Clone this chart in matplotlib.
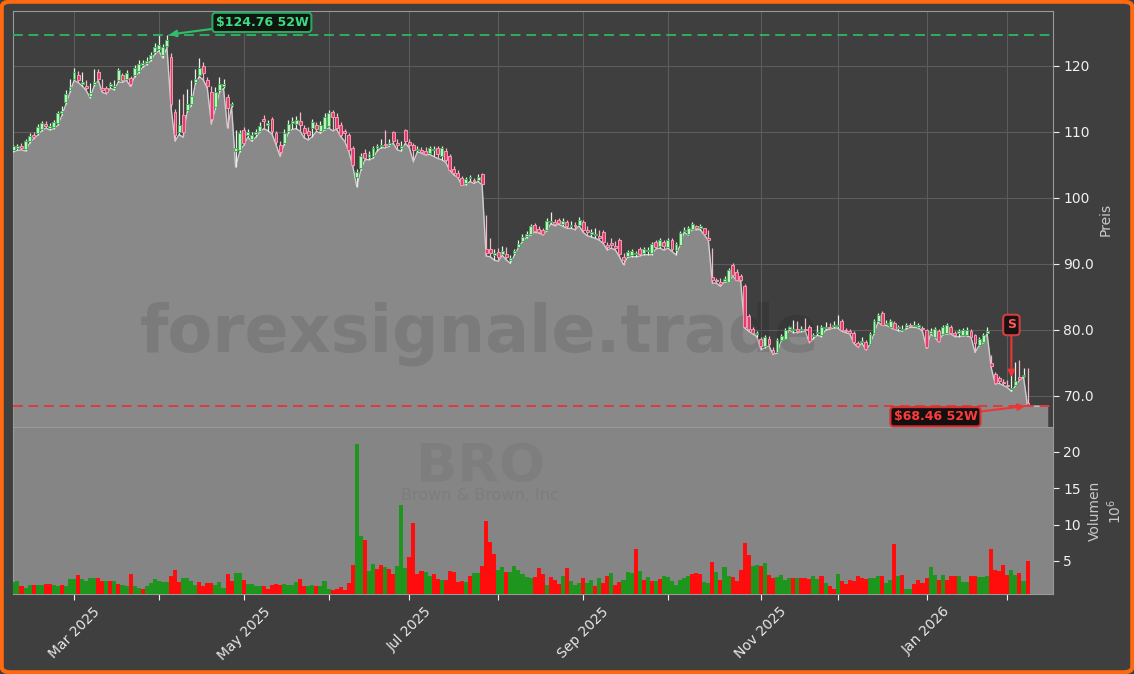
import matplotlib
matplotlib.use("Agg")
import matplotlib.pyplot as plt
import numpy as np
import pandas as pd
from matplotlib.patches import FancyBboxPatch
from matplotlib.ticker import FixedLocator, FixedFormatter, FuncFormatter, NullFormatter

# ---------------- data ----------------
holidays = ["2025-02-17", "2025-04-18", "2025-05-26", "2025-06-19", "2025-07-04",
            "2025-09-01", "2025-11-27", "2025-12-25", "2026-01-01", "2026-01-19"]
dates = pd.bdate_range("2025-02-07", "2026-02-09", freq="C", holidays=holidays)

open_ = [107.3, 107.5, 107.9, 107.4, 108.6, 109.6, 109.8, 110.5, 111.2, 110.6,
         110.8, 111.3, 112.8, 114.5, 116.3, 118.1, 118.6, 117.3, 116.9, 115.5,
         117.3, 119.1, 116.6, 116.7, 116.9, 116.7, 117.9, 118.6, 118.1, 118.2,
         118.7, 119.3, 120.1, 120.5, 121.1, 122.1, 122.6, 121.7, 123.1, 121.4,
         113.0, 110.0, 112.5, 113.3, 114.3, 117.5, 118.7, 120.0, 117.8, 116.1,
         113.8, 116.4, 117.0, 115.3, 114.1, 107.1, 107.3, 110.3, 109.6, 109.0,
         109.7, 110.2, 111.9, 111.0, 111.9, 109.8, 108.0, 108.4, 110.1, 111.3,
         111.2, 111.6, 110.6, 110.2, 110.6, 111.0, 110.1, 110.5, 110.9, 113.0,
         112.3, 111.1, 110.0, 109.5, 107.5, 103.2, 104.5, 106.8, 106.2, 106.3,
         107.6, 107.8, 108.2, 108.0, 110.0, 108.3, 107.6, 110.3, 108.5, 108.0,
         107.2, 107.3, 107.1, 106.8, 107.3, 107.5, 106.3, 107.1, 106.3, 104.4,
         103.8, 103.0, 102.2, 103.0, 102.6, 102.7, 103.7, 92.3, 92.2, 91.3,
         91.8, 91.5, 91.5, 90.6, 91.6, 92.6, 93.5, 94.2, 94.5, 95.9,
         95.3, 95.1, 95.2, 96.3, 96.3, 96.7, 96.0, 96.3, 95.7, 95.9,
         95.9, 96.4, 95.0, 94.6, 94.4, 94.3, 94.9, 92.8, 93.2, 92.7,
         93.6, 91.0, 91.2, 91.4, 91.5, 92.2, 91.6, 91.9, 91.6, 93.3,
         92.7, 93.4, 92.6, 93.7, 92.1, 92.9, 95.0, 94.5, 95.3, 95.7,
         95.5, 95.4, 93.9, 88.0, 87.5, 87.3, 87.4, 87.3, 89.8, 88.8,
         88.2, 86.6, 82.1, 80.2, 79.4, 78.7, 77.5, 78.7, 77.0, 76.7,
         78.5, 78.7, 80.2, 80.0, 80.0, 80.0, 80.1, 80.5, 79.1, 79.5,
         79.2, 80.3, 80.5, 80.6, 80.6, 81.3, 80.0, 79.8, 79.5, 78.0,
         78.2, 78.2, 77.9, 79.5, 81.4, 82.5, 80.9, 80.5, 81.0, 80.3,
         80.0, 80.5, 80.7, 80.6, 80.5, 80.2, 80.0, 79.6, 79.0, 79.8,
         79.4, 79.5, 80.5, 79.5, 79.6, 79.2, 79.2, 79.8, 79.2, 77.7,
         78.2, 79.6, 75.0, 73.3, 72.7, 72.1, 71.6, 71.0, 71.7, 72.8,
         73.0, 69.0]

close = [107.8, 107.9, 107.6, 108.6, 109.4, 109.3, 110.7, 111.3, 110.9, 110.9,
         111.5, 112.8, 113.2, 115.8, 116.8, 119.1, 117.8, 117.6, 116.6, 115.9,
         117.6, 118.1, 116.3, 116.1, 117.3, 117.0, 119.4, 117.8, 118.9, 117.2,
         119.7, 120.3, 120.4, 120.8, 121.6, 122.9, 123.2, 122.8, 124.0, 114.2,
         109.6, 111.0, 110.0, 114.2, 115.5, 118.0, 119.7, 118.9, 116.9, 112.0,
         116.0, 117.2, 117.2, 113.6, 114.3, 107.6, 109.8, 108.4, 110.0, 109.6,
         110.0, 110.9, 111.6, 111.3, 110.2, 108.5, 107.0, 109.8, 111.2, 111.7,
         111.8, 111.0, 109.8, 109.6, 111.5, 110.4, 111.1, 112.3, 112.8, 112.2,
         110.6, 109.6, 109.9, 107.3, 105.0, 104.0, 106.3, 106.0, 106.7, 107.5,
         107.8, 108.1, 108.0, 108.3, 108.6, 108.0, 107.9, 108.6, 108.0, 107.3,
         107.4, 107.0, 106.7, 107.5, 107.4, 106.6, 107.5, 105.8, 104.3, 103.8,
         103.2, 102.0, 102.8, 103.1, 102.5, 103.2, 102.1, 91.6, 91.6, 91.6,
         91.0, 91.9, 91.1, 90.9, 92.0, 93.1, 94.1, 94.6, 95.7, 95.0,
         94.9, 94.6, 96.5, 96.5, 96.1, 96.2, 96.5, 95.8, 95.9, 95.8,
         96.6, 95.2, 94.9, 94.8, 94.6, 94.0, 93.3, 92.6, 92.8, 92.4,
         91.5, 90.6, 91.8, 91.9, 91.7, 91.5, 92.3, 92.1, 93.1, 92.6,
         93.6, 92.7, 93.6, 92.2, 93.1, 94.7, 95.2, 95.4, 96.0, 95.4,
         95.6, 94.5, 93.7, 87.5, 87.4, 87.0, 87.7, 89.1, 88.3, 87.6,
         87.5, 80.5, 80.1, 79.6, 79.6, 77.5, 79.0, 77.8, 76.5, 78.5,
         79.1, 80.0, 80.4, 80.2, 79.9, 80.2, 80.0, 78.3, 79.3, 79.6,
         80.5, 80.5, 80.3, 80.8, 80.7, 80.0, 79.8, 79.5, 78.2, 77.6,
         78.3, 77.1, 79.4, 81.4, 82.2, 80.8, 81.1, 81.3, 80.2, 80.4,
         80.1, 80.6, 80.6, 80.8, 80.6, 80.1, 77.4, 79.8, 80.2, 78.3,
         80.5, 80.7, 79.5, 79.3, 79.8, 80.0, 80.0, 79.0, 78.0, 78.7,
         79.2, 79.7, 74.5, 71.9, 72.2, 71.9, 71.5, 71.2, 72.3, 72.6,
         73.2, 68.6]

high = [108.1, 108.2, 108.3, 108.9, 109.8, 110.0, 111.2, 111.7, 111.7, 111.4,
        111.8, 113.2, 114.0, 116.3, 118.0, 119.7, 119.2, 119.1, 117.9, 117.4,
        119.6, 119.6, 118.1, 117.0, 117.6, 117.8, 119.7, 119.0, 119.4, 118.5,
        120.1, 120.9, 120.9, 121.4, 122.1, 123.5, 124.7, 123.3, 124.76, 122.0,
        113.5, 115.0, 115.8, 116.5, 117.8, 119.5, 121.2, 120.6, 118.3, 117.0,
        116.8, 118.3, 118.0, 115.8, 114.6, 110.3, 110.3, 110.8, 110.5, 110.0,
        110.4, 111.5, 112.6, 111.8, 112.3, 110.2, 108.6, 110.4, 111.8, 112.3,
        112.4, 113.0, 111.0, 110.8, 111.9, 111.5, 111.6, 112.8, 113.3, 113.4,
        112.8, 111.5, 110.5, 109.9, 107.9, 104.4, 106.8, 107.4, 107.1, 107.9,
        108.2, 109.0, 110.3, 109.0, 110.2, 109.0, 108.6, 110.4, 109.0, 108.3,
        107.9, 107.7, 107.7, 107.9, 107.8, 107.9, 107.9, 107.5, 106.6, 104.8,
        104.2, 103.3, 103.2, 103.5, 103.0, 103.7, 103.8, 97.4, 93.9, 92.2,
        92.4, 92.7, 92.6, 91.4, 92.3, 93.6, 94.5, 95.0, 96.0, 96.2,
        95.7, 95.5, 96.9, 97.9, 96.8, 97.0, 96.9, 96.6, 96.5, 96.3,
        97.1, 96.6, 95.8, 95.3, 95.4, 95.1, 95.2, 93.3, 94.0, 93.5,
        93.9, 91.6, 92.1, 92.2, 92.0, 92.5, 92.6, 92.5, 93.4, 93.7,
        93.9, 93.7, 93.9, 94.0, 93.4, 95.0, 95.6, 95.8, 96.4, 95.9,
        96.1, 95.5, 95.2, 92.4, 87.9, 87.8, 88.2, 89.4, 90.1, 89.2,
        88.5, 87.0, 82.4, 80.5, 79.9, 79.0, 79.3, 79.1, 77.4, 78.8,
        79.4, 80.3, 80.6, 81.5, 81.3, 80.6, 81.8, 80.8, 79.6, 80.8,
        80.7, 81.2, 81.0, 81.3, 82.3, 81.6, 80.3, 80.1, 79.8, 78.3,
        79.0, 78.5, 79.7, 81.7, 82.5, 82.8, 81.5, 81.6, 81.3, 80.8,
        80.7, 81.0, 81.1, 81.3, 81.1, 80.6, 80.2, 80.3, 80.5, 80.1,
        80.8, 81.0, 80.8, 79.9, 80.2, 80.3, 80.4, 80.1, 79.4, 79.0,
        79.5, 80.4, 76.2, 73.6, 73.0, 72.5, 72.4, 73.7, 75.2, 75.4,
        74.2, 74.2]

low = [107.0, 107.2, 107.3, 107.1, 108.3, 109.0, 109.5, 110.2, 110.6, 110.3,
       110.5, 111.0, 112.5, 114.2, 116.0, 117.8, 117.5, 117.0, 116.3, 115.2,
       117.0, 117.8, 116.0, 115.8, 116.6, 116.4, 117.6, 117.5, 117.8, 116.9,
       118.4, 119.0, 119.8, 120.2, 120.8, 121.8, 122.3, 121.2, 122.8, 113.8,
       108.6, 109.6, 109.2, 113.0, 114.0, 117.2, 118.4, 117.9, 116.6, 111.2,
       113.5, 116.0, 116.6, 110.6, 113.8, 104.7, 107.0, 108.0, 109.2, 108.6,
       109.2, 110.0, 110.5, 110.2, 109.7, 108.1, 106.3, 108.1, 109.8, 110.4,
       110.5, 110.1, 109.1, 108.8, 109.3, 110.1, 109.8, 110.3, 110.6, 110.2,
       110.4, 109.3, 108.6, 107.1, 104.8, 101.7, 104.2, 105.8, 105.8, 106.0,
       107.1, 107.6, 107.6, 107.8, 108.3, 107.3, 107.1, 108.3, 107.6, 105.5,
       107.0, 106.8, 106.5, 106.6, 106.3, 106.0, 105.8, 105.4, 104.2, 103.5,
       103.1, 101.9, 102.0, 102.5, 102.2, 102.5, 102.0, 91.2, 91.1, 90.6,
       90.4, 91.3, 90.6, 90.1, 91.3, 92.5, 93.4, 94.0, 94.4, 94.8,
       94.7, 94.4, 95.0, 96.1, 95.8, 96.0, 95.7, 95.4, 95.4, 95.2,
       95.8, 94.8, 94.3, 94.1, 93.9, 93.6, 93.1, 92.1, 92.4, 92.1,
       91.1, 89.9, 91.0, 91.1, 91.1, 91.2, 91.4, 91.4, 91.4, 92.3,
       92.4, 92.1, 92.4, 91.9, 91.4, 92.8, 94.8, 94.4, 95.2, 95.2,
       95.2, 94.4, 93.6, 87.1, 87.1, 86.6, 87.3, 87.2, 88.2, 87.5,
       87.4, 80.3, 79.8, 79.4, 79.0, 77.0, 77.3, 77.6, 76.3, 76.5,
       78.3, 78.6, 80.0, 79.6, 79.6, 79.7, 79.8, 78.1, 78.7, 79.2,
       79.0, 80.0, 80.1, 80.3, 80.3, 79.8, 79.6, 79.4, 78.0, 77.4,
       78.0, 77.0, 77.8, 79.4, 81.2, 80.7, 80.7, 80.4, 80.1, 79.9,
       79.8, 80.2, 80.4, 80.4, 80.3, 79.8, 77.2, 79.4, 78.9, 78.2,
       79.3, 79.4, 79.4, 79.0, 79.0, 79.1, 79.1, 78.9, 76.6, 77.6,
       78.1, 79.4, 74.3, 71.8, 71.9, 71.6, 71.3, 70.7, 71.5, 72.4,
       72.9, 68.46]

volume = [2.15, 2.2, 1.5, 1.3, 1.7, 1.7, 1.7, 1.7, 1.8, 1.8,
          1.7, 1.5, 1.7, 1.6, 2.5, 2.5, 3.0, 2.5, 2.3, 2.6,
          2.7, 2.6, 2.3, 2.3, 2.3, 2.2, 1.8, 1.7, 1.6, 3.2,
          1.6, 1.3, 1.2, 1.5, 1.9, 2.5, 2.2, 2.15, 2.15, 2.9,
          3.75, 2.1, 2.7, 2.6, 2.2, 1.7, 2.15, 1.5, 2.0, 2.0,
          1.7, 2.1, 1.3, 3.2, 2.3, 3.4, 3.4, 2.4, 1.8, 1.8,
          1.5, 1.5, 1.6, 1.2, 1.7, 1.8, 1.7, 1.8, 1.7, 1.7,
          2.1, 2.5, 1.5, 1.5, 1.7, 1.5, 1.6, 2.2, 1.2, 1.0,
          1.1, 1.4, 1.0, 2.0, 4.4, 21.1, 8.5, 7.9, 3.6, 4.6,
          3.9, 4.4, 4.2, 3.9, 3.2, 4.3, 12.7, 4.0, 5.6, 10.2,
          3.2, 3.6, 3.5, 2.9, 3.2, 2.5, 2.4, 2.4, 3.6, 3.5,
          2.1, 2.2, 2.1, 2.9, 3.3, 3.3, 4.3, 10.5, 7.6, 6.0,
          3.75, 4.2, 3.5, 3.5, 4.3, 3.75, 3.2, 2.8, 2.7, 2.8,
          4.0, 3.2, 1.7, 2.8, 2.4, 1.8, 2.9, 4.0, 2.2, 1.7,
          2.0, 2.7, 2.0, 2.4, 1.6, 2.7, 2.0, 2.9, 3.3, 1.7,
          2.1, 2.4, 3.5, 3.3, 6.6, 3.6, 2.4, 2.8, 2.2, 2.2,
          2.5, 2.9, 2.8, 2.2, 1.7, 2.4, 2.7, 2.9, 3.2, 3.3,
          3.2, 2.1, 2.0, 4.85, 3.5, 2.4, 4.2, 2.9, 2.8, 2.2,
          3.75, 7.45, 5.8, 4.3, 4.4, 4.3, 4.7, 3.1, 2.6, 2.85,
          3.1, 2.4, 2.6, 2.6, 2.6, 2.6, 2.7, 2.5, 2.9, 2.5,
          2.9, 1.9, 1.5, 1.2, 3.2, 2.2, 1.8, 2.4, 2.2, 2.9,
          2.6, 2.5, 2.7, 2.7, 2.9, 2.9, 1.9, 2.4, 7.3, 2.9,
          3.0, 1.2, 1.2, 1.8, 2.4, 2.0, 2.7, 4.1, 3.0, 2.4,
          3.1, 2.4, 2.9, 2.9, 2.9, 2.1, 2.1, 2.9, 2.9, 2.8,
          2.8, 2.9, 6.6, 3.8, 3.6, 4.5, 3.1, 3.7, 3.1, 3.3,
          2.3, 5.0]

# volume bar colour (G = up day, R = down day), 10 sessions per entry
vol_dir = "".join([
    "GGRGGRGGRR", "GGRGGGRGGG", "GRRGRGRGGR", "GGRGGGGGGR", "RRGGGGRRRR",
    "GGGRRGGRGG", "GGRRRRRGGG", "GRRGGRGGGR", "RRRRRGGRGG", "RRGRRGGGRR",
    "RRGGRRGRRR", "RRGRGGRRRR", "GGRGGGGGGR", "RRGRRRGRGG", "GRGGRGRRGR",
    "RGGGRGRGRG", "RGGGGGGGRR", "RGGRGRGGRR", "RRRGGRGRRG", "GGGRGRRRGG",
    "RGRRGRRRRR", "RRGGGRGGRG", "RGGRRRRGGR", "GRRRGGGRRG", "GGRRRRRGGR",
    "GR"])

ticker = "BRO"
company = "Brown & Brown, Inc"
watermark = "forexsignale.trade"
hi_label = "\\$124.76 52W"
lo_label = "\\$68.46 52W"
high52 = 124.76
low52 = 68.46
signal_idx = 247
signal_price = 72.8

# ---------------- figure ----------------
W, H = 1134, 674
BG = "#3f3f3f"
fig = plt.figure(figsize=(W / 100, H / 100), dpi=100, facecolor=BG)

def fx(px):
    return px / W

def fy(py):
    return 1 - py / H

L, R = 13, 1053
ax = fig.add_axes([fx(L), fy(427), fx(R - L), (427 - 11) / H])
axv = fig.add_axes([fx(L), fy(594), fx(R - L), (594 - 428) / H], sharex=ax)

n = len(close)
x = np.arange(n)
ax.set_facecolor(BG)
axv.set_facecolor("#858585")

ylo, yhi = 65.3, 128.33
ax.set_ylim(ylo, yhi)
ax.set_xlim(-0.1, 257.3)

# area under the line, extended flat past the last session
xf = np.append(x, x[-1] + 5)
yf = np.append(np.array(low), low[-1])
ax.fill_between(xf, yf, ylo, color="#898989", zorder=1, lw=0)
ax.plot(xf, yf, color="#cfcfcf", lw=1.0, zorder=2)

o = np.array(open_); c = np.array(close); h = np.array(high); lo_ = np.array(low)
up = c >= o
wick_col = np.where(up, "#e6f2e6", "#f2b8c8")
ax.vlines(x, lo_, h, colors=wick_col, lw=0.9, zorder=3)
body_h = np.maximum(np.abs(c - o), 0.18)
body_b = np.minimum(o, c)
face = np.where(up, "#bff0bf", "#e23d6d")
edge = np.where(up, "#3fae55", "#f29ab2")
ax.bar(x, body_h, bottom=body_b, width=0.72, color=face, edgecolor=edge, lw=0.7, zorder=4)

# 52 week lines
ax.axhline(high52, color="#2fae60", ls=(0, (5, 3)), lw=1.4, zorder=5)
ax.axhline(low52, color="#e03a3a", ls=(0, (5, 3)), lw=1.4, zorder=5)

imax = int(np.argmax(h))
imin = int(np.argmin(lo_))
ax.annotate(hi_label, xy=(imax + 0.6, high52), xytext=(61.5, 126.6),
            color="#3ddc84", fontsize=9, fontweight="bold", ha="center", va="center",
            bbox=dict(boxstyle="round,pad=0.25", fc="#101510", ec="#2aa860", lw=1.5),
            arrowprops=dict(arrowstyle="-|>", color="#2fbf6a", lw=1.5, mutation_scale=10,
                            shrinkA=0, shrinkB=0), zorder=8)
ax.annotate(lo_label, xy=(imin - 0.6, low52), xytext=(228.2, 66.85),
            color="#ff3b3b", fontsize=9, fontweight="bold", ha="center", va="center",
            bbox=dict(boxstyle="round,pad=0.25", fc="#151010", ec="#d93030", lw=1.5),
            arrowprops=dict(arrowstyle="-|>", color="#ee3535", lw=1.5, mutation_scale=10,
                            shrinkA=0, shrinkB=0), zorder=8)
ax.annotate("S", xy=(signal_idx, signal_price), xytext=(signal_idx, 80.76),
            color="#ff5a5a", fontsize=9, fontweight="bold", ha="center", va="center",
            bbox=dict(boxstyle="round,pad=0.3", fc="#1a1212", ec="#d04040", lw=1.5),
            arrowprops=dict(arrowstyle="-|>", color="#ee3535", lw=1.5, mutation_scale=10,
                            shrinkA=0, shrinkB=0), zorder=8)

# watermark
ax.text((480 - L) / (R - L), (427 - 352) / 416, watermark, transform=ax.transAxes,
        ha="center", va="baseline", fontsize=47, fontweight="bold",
        color="black", alpha=0.10, zorder=2.5)

# volume
vcol = ["#1e961e" if d == "G" else "#ff0d0d" for d in vol_dir]
axv.bar(x, volume, width=1.0, color=vcol, lw=0, zorder=3)
axv.set_ylim(0.45, 23.3)
axv.text((481 - L) / (R - L), (594 - 482) / 166, ticker, transform=axv.transAxes,
         ha="center", va="baseline", fontsize=39, fontweight="bold",
         color="black", alpha=0.05, zorder=1)
axv.text((480 - L) / (R - L), (594 - 500) / 166, company, transform=axv.transAxes,
         ha="center", va="baseline", fontsize=11.5, color="black", alpha=0.06, zorder=1)

# ---------------- axes styling ----------------
month_idx = [i for i in range(1, n) if dates[i].month != dates[i - 1].month]
major = [i for i in month_idx if dates[i].month % 2 == 1]
minor = [i for i in month_idx if dates[i].month % 2 == 0]
major_lab = [dates[i].strftime("%b %Y") for i in major]

axv.xaxis.set_major_locator(FixedLocator(major))
axv.xaxis.set_major_formatter(FixedFormatter(major_lab))
axv.xaxis.set_minor_locator(FixedLocator(minor))
axv.xaxis.set_minor_formatter(NullFormatter())

ax.set_axisbelow(True)
ax.grid(True, which="both", axis="both", color="#5c5c5c", lw=0.8, zorder=0)
ax.yaxis.set_major_locator(FixedLocator([70, 80, 90, 100, 110, 120]))
ax.yaxis.set_major_formatter(FuncFormatter(lambda v, p: f"{v:.1f}" if v < 100 else f"{v:.0f}"))
ax.yaxis.tick_right()
ax.tick_params(axis="y", colors="#f0f0f0", labelsize=10, length=4, width=0.8, labelcolor="#f0f0f0")
ax.tick_params(axis="x", which="both", length=0, labelbottom=False)
ax.yaxis.set_label_position("right")
ax.set_ylabel("Preis", color="#c8c8c8", fontsize=10, labelpad=3)

axv.yaxis.set_major_locator(FixedLocator([5, 10, 15, 20]))
axv.yaxis.tick_right()
axv.yaxis.set_label_position("right")
axv.tick_params(axis="y", colors="#f0f0f0", labelsize=10, length=4, width=0.8)
axv.tick_params(axis="x", which="both", colors="#f0f0f0", labelsize=10, length=4, width=0.8)
axv.set_ylabel("Volumen\n$10^6$", color="#c8c8c8", fontsize=10, labelpad=5)
for lab in axv.get_xticklabels():
    lab.set_rotation(45)
    lab.set_color("#e8e8e8")

for a in (ax, axv):
    for s in a.spines.values():
        s.set_color("#9a9a9a")
        s.set_linewidth(0.8)
axv.spines["top"].set_visible(False)

# orange rounded frame
fig.patches.append(FancyBboxPatch((0.0015, 0.0025), 0.997, 0.995,
                                  boxstyle="round,pad=0,rounding_size=0.008",
                                  transform=fig.transFigure, fill=False,
                                  edgecolor="#ff6a10", lw=3, zorder=10))

fig.savefig("out.png", dpi=100, facecolor=BG)
